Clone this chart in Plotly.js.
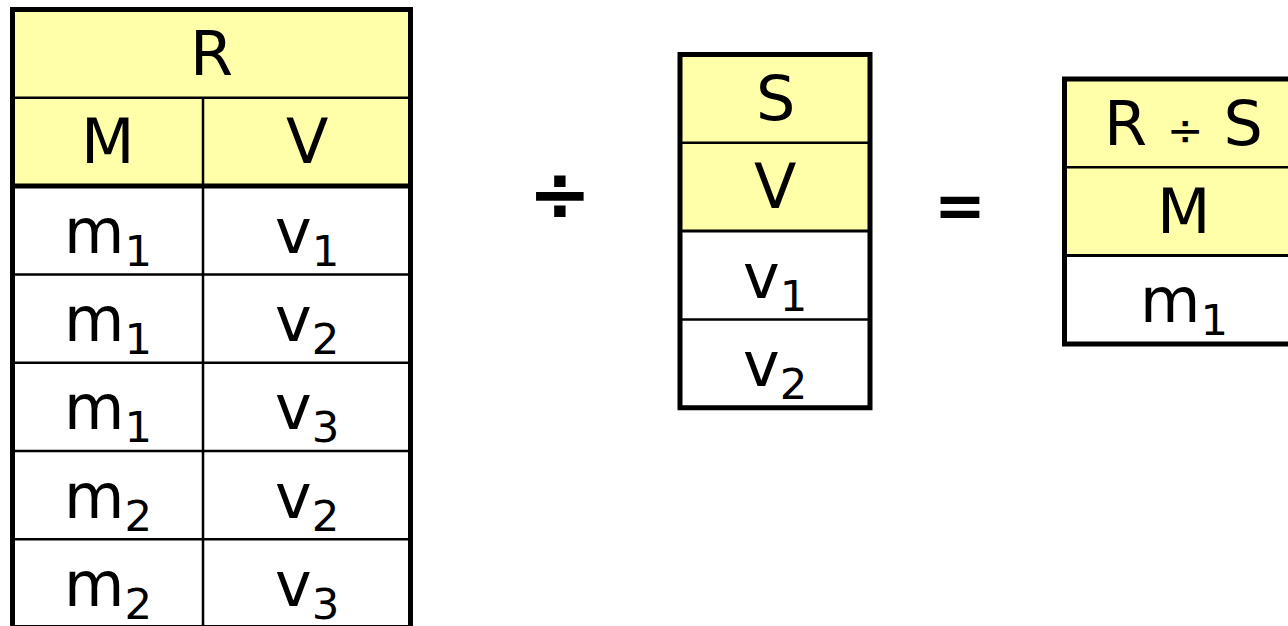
<!DOCTYPE html>
<html>
<head>
<meta charset="utf-8">
<script src="https://cdn.plot.ly/plotly-3.0.1.min.js"></script>
<style>
  html, body { margin: 0; padding: 0; background: #fff; }
  #chart { width: 1288px; height: 626px; }
</style>
</head>
<body>
<div id="chart"></div>
<script>
// Relation R(M, V)
const rName = 'R';
const rColumns = ['M', 'V'];
const rM = ['m1', 'm1', 'm1', 'm2', 'm2'];
const rV = ['v1', 'v2', 'v3', 'v2', 'v3'];

// Relation S(V)
const sName = 'S';
const sColumns = ['V'];
const sV = ['v1', 'v2'];

// Result of the division
const qName = 'R ÷ S';
const qColumns = ['M'];
const qM = ['m1'];

const ROW_H = 88.3;
const YELLOW = '#ffffaa';
const FONT = 'DejaVu Sans, Verdana, sans-serif';
const TEXT_SIZE = 62;

const shapes = [];
const annotations = [];

// 'm1' -> m<sub>1</sub>, and a smaller division sign inside titles
function fmt(v) {
  const m = v.match(/^([a-z]+)(\d+)$/);
  if (m) return m[1] + '<sub>' + m[2] + '</sub>';
  return v.replace('÷', '<span style="font-size:44px">÷</span>');
}

function line(x0, y0, x1, y1, width) {
  shapes.push({ type: 'line', xref: 'x', yref: 'y', x0, y0, x1, y1,
    line: { color: '#000', width } });
}

function label(text, x, y, size, weight) {
  annotations.push({ xref: 'x', yref: 'y', x, y, text, showarrow: false,
    xanchor: 'center', yanchor: 'middle',
    font: { family: FONT, size: size || TEXT_SIZE, color: '#000', weight: weight || 'normal' } });
}

// draws one relation: title row, header row, then one row per tuple
function drawTable(name, columns, values, x0, y0, colWidths, headLineW) {
  const nRows = values[0].length;
  const width = colWidths.reduce((a, b) => a + b, 0);
  const colX = colWidths.map((w, j) => x0 + colWidths.slice(0, j).reduce((a, b) => a + b, 0));
  const yHead = y0 + ROW_H;
  const yBody = y0 + 2 * ROW_H;
  const y1 = yBody + nRows * ROW_H;
  const x1 = x0 + width;

  // yellow header block
  shapes.push({ type: 'rect', xref: 'x', yref: 'y', x0, y0, x1, y1: yBody,
    fillcolor: YELLOW, line: { width: 0 }, layer: 'below' });

  label(fmt(name), x0 + width / 2, y0 + ROW_H / 2);
  columns.forEach((c, j) => label(c, colX[j] + colWidths[j] / 2, yHead + ROW_H / 2));

  values.forEach((col, j) => {
    col.forEach((v, i) => {
      label(fmt(v), colX[j] + colWidths[j] / 2, yBody + ROW_H * (i + 0.5) + 5);
    });
  });

  // horizontal lines
  line(x0, yHead, x1, yHead, 2.5);
  line(x0, yBody, x1, yBody, headLineW);
  for (let i = 1; i < nRows; i++) {
    line(x0, yBody + i * ROW_H, x1, yBody + i * ROW_H, 2.5);
  }
  // column dividers
  for (let j = 1; j < columns.length; j++) {
    line(colX[j], yHead, colX[j], y1, 2.5);
  }
  // outer border
  shapes.push({ type: 'rect', xref: 'x', yref: 'y', x0, y0, x1, y1,
    line: { color: '#000', width: 5 } });
}

drawTable(rName, rColumns, [rM, rV], 12.5, 9.5, [190.5, 207.5], 5);
drawTable(sName, sColumns, [sV], 680, 54.5, [190], 3);
drawTable(qName, qColumns, [qM], 1064.5, 79, [238], 3);

// operators between the tables
label('÷', 560, 193, 76, 'bold');
label('=', 960, 205, 62, 'bold');

const layout = {
  width: 1288,
  height: 626,
  margin: { l: 0, r: 0, t: 0, b: 0 },
  paper_bgcolor: '#fff',
  plot_bgcolor: '#fff',
  xaxis: { range: [0, 1288], visible: false, fixedrange: true },
  yaxis: { range: [626, 0], visible: false, fixedrange: true },
  showlegend: false,
  shapes,
  annotations
};

Plotly.newPlot('chart', [], layout, { staticPlot: true });
</script>
</body>
</html>
